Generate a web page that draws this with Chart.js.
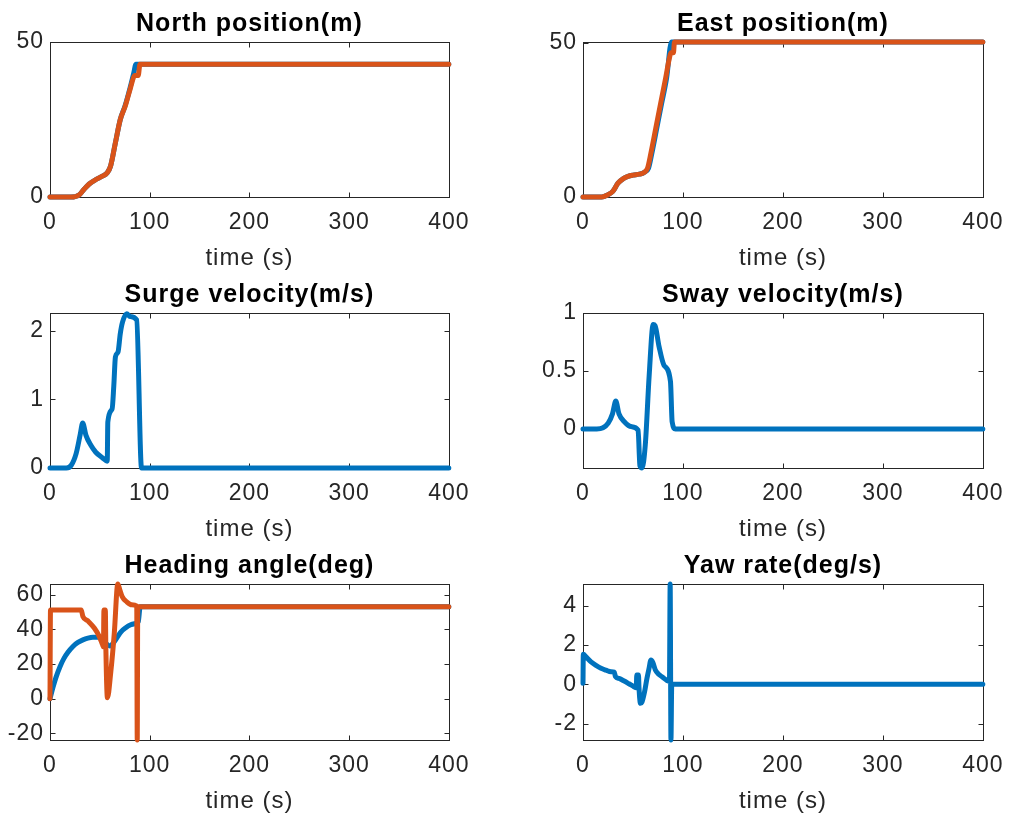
<!DOCTYPE html>
<html>
<head>
<meta charset="utf-8">
<script src="https://cdn.jsdelivr.net/npm/chart.js@4.4.0/dist/chart.umd.min.js"></script>
<style>
html, body { margin: 0; padding: 0; background: #fff; }
body { width: 1014px; height: 816px; position: relative; overflow: hidden; }
canvas { position: absolute; }
</style>
</head>
<body>
<canvas id="north"></canvas>
<canvas id="east"></canvas>
<canvas id="surge"></canvas>
<canvas id="sway"></canvas>
<canvas id="heading"></canvas>
<canvas id="yaw"></canvas>
<script>
// values (time in s)
var northTimeA = [0, 21, 29.5, 34.4, 39.3, 45.9, 52.5, 57.4, 60.7, 65.6, 70.5, 75.4, 80.3, 84, 86.2, 400];
var northA     = [0, 0, 0.75, 2.6, 4.2, 5.6, 6.7, 7.8, 9.9, 17.5, 25, 29.5, 35.2, 40, 42.8, 42.8];
var northTimeB = [0, 21, 29.5, 34.4, 39.3, 45.9, 52.5, 57.4, 60.7, 65.6, 70.5, 75.4, 80.3, 85.2, 88.5, 90.2, 400];
var northB     = [0, 0, 0.75, 2.6, 4.2, 5.6, 6.7, 7.8, 9.9, 17.5, 25, 29.3, 34.7, 39.2, 39.2, 42.8, 42.8];

var eastTimeA = [0, 18.7, 25, 29.8, 35, 40, 45, 50, 56.4, 61.3, 65.6, 68.9, 73.8, 78.7, 83.6, 88.5, 400];
var eastA     = [0, 0, 0.75, 1.8, 4.5, 5.9, 6.7, 7.1, 7.4, 8.0, 9.4, 14.2, 22.3, 30.4, 38.5, 50.3, 50.3];
var eastTimeB = [0, 18.7, 25, 29.8, 35, 40, 45, 50, 56.4, 61.3, 64.6, 67.9, 72.8, 77.7, 82.6, 86.6, 88, 90.5, 91.5, 400];
var eastB     = [0, 0, 0.75, 1.8, 4.5, 5.9, 6.7, 7.1, 7.4, 8.0, 9.4, 14.2, 22.3, 30.4, 38.5, 45.3, 46.8, 46.8, 50.3, 50.3];

var surgeTime = [0, 16.4, 21.3, 26.2, 30.2, 32.8, 36, 41, 45.9, 52.5, 57.4, 58, 62.3, 64, 65.6, 68.2, 70.5, 72.8, 77, 80.3, 86.9, 91.8, 400];
var surge     = [0, 0, 0.04, 0.21, 0.48, 0.655, 0.48, 0.33, 0.23, 0.15, 0.10, 0.67, 0.86, 1.2, 1.62, 1.69, 1.96, 2.13, 2.25, 2.21, 2.16, 0, 0];

var swayTime = [0, 13.8, 20, 25.2, 29.5, 32.8, 36, 41.6, 48.2, 55.1, 57, 59, 62.3, 66.2, 70.2, 72.1, 76.1, 81, 87.5, 89.2, 92.5, 400];
var sway     = [0, 0, 0.01, 0.05, 0.13, 0.24, 0.13, 0.06, 0.02, -0.01, -0.32, -0.337, -0.14, 0.46, 0.9, 0.89, 0.71, 0.55, 0.41, 0.06, 0, 0];

var headTimeA = [0, 3, 6, 10, 14, 18, 23, 28, 33, 38, 43, 48, 53, 57, 60, 64, 68, 71, 76, 81, 86, 88.5, 90.5, 400];
var headA     = [0, 6.5, 12.3, 18.5, 23.3, 26.8, 30.2, 32.5, 34, 35, 35.5, 35.5, 34, 31.5, 30.5, 32.5, 36, 38.5, 41, 42.7, 43.5, 44.5, 53.2, 53.2];
var headTimeB = [0, 0.5, 31.3, 33, 38, 44.6, 49.5, 52.8, 53.6, 54.1, 55.5, 56, 57.6, 61, 64.5, 68, 70, 72.4, 77, 82, 87, 87.5, 88, 400];
var headB     = [0, 51.3, 51.3, 47.5, 45, 40.7, 35.9, 31.1, 30, 51.3, 51.3, 30, 0.5, 15.6, 38, 66.3, 63, 59, 56, 54.3, 53.6, -23.9, 53.2, 53.2];

var yawTime = [0, 0.3, 3, 8, 13, 18, 23, 28, 31.3, 32.5, 36, 41.2, 46, 51, 53.3, 53.8, 55.5, 56, 57.5, 59, 61.5, 64, 66, 68, 70, 72.4, 76, 79, 84, 86.5, 87.2, 88, 88.8, 400];
var yaw     = [0.05, 1.53, 1.4, 1.15, 0.97, 0.82, 0.72, 0.64, 0.62, 0.39, 0.3, 0.17, 0.03, -0.12, -0.18, 0.48, 0.48, -0.15, -0.97, -0.9, -0.4, 0.31, 0.8, 1.24, 1.1, 0.73, 0.5, 0.39, 0.2, 0.16, 5.12, -2.84, 0, 0];

var xTicks = [0, 100, 200, 300, 400];
var northTicks = [0, 50];
var eastTicks = [0, 50];
var surgeTicks = [0, 1, 2];
var swayTicks = [0, 0.5, 1];
var headTicks = [-20, 0, 20, 40, 60];
var yawTicks = [-2, 0, 2, 4];

var BLUE = '#0072BD';
var ORANGE = '#D95319';
var FONT = '"Liberation Sans", Arial, Helvetica, sans-serif';

// matlab-like box with inward ticks on all four sides
var boxPlugin = {
    id: 'mbox',
    beforeDraw: function (chart) {
        chart.ctx.letterSpacing = '1px';
    },
    beforeDatasetsDraw: function (chart) {
        var ctx = chart.ctx, a = chart.chartArea;
        var xs = chart.scales.x, ys = chart.scales.y;
        var l = Math.round(a.left) + 0.5, r = Math.round(a.right) + 0.5;
        var t = Math.round(a.top) + 0.5, b = Math.round(a.bottom) + 0.5;
        ctx.save();
        ctx.strokeStyle = '#262626';
        ctx.lineWidth = 1;
        ctx.strokeRect(l, t, r - l, b - t);
        ctx.beginPath();
        xs.ticks.forEach(function (tk) {
            var p = Math.round(xs.getPixelForValue(tk.value)) + 0.5;
            ctx.moveTo(p, b); ctx.lineTo(p, b - 5);
            ctx.moveTo(p, t); ctx.lineTo(p, t + 5);
        });
        ys.ticks.forEach(function (tk) {
            var p = Math.round(ys.getPixelForValue(tk.value)) + 0.5;
            ctx.moveTo(l, p); ctx.lineTo(l + 5, p);
            ctx.moveTo(r, p); ctx.lineTo(r - 5, p);
        });
        ctx.stroke();
        ctx.restore();
    }
};

function toPoints(ts, vs) {
    return ts.map(function (t, i) { return {x: t, y: vs[i]}; });
}

function makePlot(id, plotLeft, plotTop, plotW, plotH, title, yMin, yMax, yTicks, series) {
    var canvas = document.getElementById(id);
    canvas.width = plotW + 75;
    canvas.height = plotH + 118;
    canvas.style.left = (plotLeft - 50) + 'px';
    canvas.style.top = (plotTop - 43) + 'px';

    // later series drawn on top, like matlab's hold on
    var datasets = series.map(function (s, i) {
        return {
            data: toPoints(s[0], s[1]),
            borderColor: s[2],
            borderWidth: 5,
            pointRadius: 0,
            fill: false,
            clip: 10,
            order: series.length - i,
            cubicInterpolationMode: 'monotone',
            borderJoinStyle: 'round',
            borderCapStyle: 'round'
        };
    });

    return new Chart(canvas.getContext('2d'), {
        type: 'line',
        data: {datasets: datasets},
        plugins: [boxPlugin],
        options: {
            responsive: false,
            animation: false,
            events: [],
            layout: {padding: {left: 0, right: 25, top: 0, bottom: 0}},
            plugins: {
                legend: {display: false},
                tooltip: {enabled: false},
                title: {
                    display: true,
                    text: title,
                    fullSize: false,
                    color: '#000',
                    font: {family: FONT, size: 25, weight: 'bold', lineHeight: 1},
                    padding: {top: 13, bottom: 5}
                }
            },
            scales: {
                x: {
                    type: 'linear',
                    min: 0,
                    max: 400,
                    grid: {display: false, drawTicks: false},
                    border: {display: false},
                    afterBuildTicks: function (sc) {
                        sc.ticks = xTicks.map(function (v) { return {value: v}; });
                    },
                    afterFit: function (sc) { sc.height = 75; },
                    ticks: {
                        color: '#262626',
                        font: {family: FONT, size: 23},
                        padding: 12,
                        maxRotation: 0,
                        autoSkip: false,
                        callback: function (v) { return String(v); }
                    },
                    title: {
                        display: true,
                        text: 'time (s)',
                        color: '#262626',
                        font: {family: FONT, size: 24, lineHeight: 1},
                        padding: {top: 0, bottom: 2}
                    }
                },
                y: {
                    type: 'linear',
                    min: yMin,
                    max: yMax,
                    grid: {display: false, drawTicks: false},
                    border: {display: false},
                    afterBuildTicks: function (sc) {
                        sc.ticks = yTicks.map(function (v) { return {value: v}; });
                    },
                    afterFit: function (sc) { sc.width = 50; },
                    ticks: {
                        color: '#262626',
                        font: {family: FONT, size: 23},
                        padding: 6,
                        autoSkip: false,
                        callback: function (v) { return String(v); }
                    }
                }
            }
        }
    });
}

var colLeft = [50, 583];
var colW = [405, 406];
var rowTop = [42, 313, 584];
var rowH = [155, 155, 156];

makePlot('north', colLeft[0], rowTop[0], colW[0], rowH[0], 'North position(m)', 0, 50, northTicks,
    [[northTimeA, northA, BLUE], [northTimeB, northB, ORANGE]]);
makePlot('east', colLeft[1], rowTop[0], colW[1], rowH[0], 'East position(m)', 0, 50.3, eastTicks,
    [[eastTimeA, eastA, BLUE], [eastTimeB, eastB, ORANGE]]);
makePlot('surge', colLeft[0], rowTop[1], colW[0], rowH[1], 'Surge velocity(m/s)', 0, 2.26, surgeTicks,
    [[surgeTime, surge, BLUE]]);
makePlot('sway', colLeft[1], rowTop[1], colW[1], rowH[1], 'Sway velocity(m/s)', -0.337, 1, swayTicks,
    [[swayTime, sway, BLUE]]);
makePlot('heading', colLeft[0], rowTop[2], colW[0], rowH[2], 'Heading angle(deg)', -23.9, 66.3, headTicks,
    [[headTimeA, headA, BLUE], [headTimeB, headB, ORANGE]]);
makePlot('yaw', colLeft[1], rowTop[2], colW[1], rowH[2], 'Yaw rate(deg/s)', -2.84, 5.12, yawTicks,
    [[yawTime, yaw, BLUE]]);
</script>
</body>
</html>
